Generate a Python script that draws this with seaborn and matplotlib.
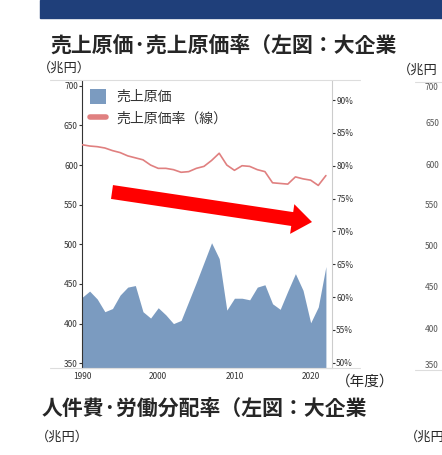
import matplotlib
matplotlib.use("Agg")
import matplotlib.pyplot as plt
import seaborn as sns
import pandas as pd
from matplotlib.patches import FancyArrow, Rectangle
from matplotlib.lines import Line2D

years = list(range(1990, 2023))
cost = [433, 441, 431, 415, 419, 436, 446, 448, 415, 407, 420, 411, 400, 404, 428, 452,
        477, 502, 482, 417, 432, 432, 430, 446, 449, 425, 418, 441, 463, 442, 401, 421, 472]
rate = [83.2, 83.0, 82.9, 82.7, 82.3, 82.0, 81.5, 81.2, 80.9, 80.1, 79.6, 79.6, 79.4, 79.0,
        79.1, 79.6, 79.9, 80.8, 81.9, 80.1, 79.3, 80.0, 79.9, 79.4, 79.1, 77.4, 77.3, 77.2,
        78.3, 78.0, 77.8, 77.0, 78.5]
left_ticks = [350, 400, 450, 500, 550, 600, 650, 700]
right_ticks = [50, 55, 60, 65, 70, 75, 80, 85, 90]
xticks = [1990, 2000, 2010, 2020]

sns.set_style("white")
plt.rcParams['font.family'] = ['Noto Sans CJK JP', 'DejaVu Sans']
df = pd.DataFrame({"year": years, "cost": cost, "rate": rate})

fig = plt.figure(figsize=(4.42, 4.55), dpi=100)
W, H = 442, 455
def fx(x): return x / W
def fy(y): return 1 - y / H

fig.patches.append(Rectangle((fx(40), fy(18)), fx(402), 18 / H, transform=fig.transFigure,
                             color="#1f3f7a", zorder=0))
fig.text(fx(50), fy(45), "売上原価·売上原価率（左図：大企業", fontsize=15, fontweight="bold",
         va="center", ha="left")
fig.text(fx(38), fy(68), "（兆円）", fontsize=9.5, va="center", ha="left")
fig.text(fx(398), fy(70), "（兆円", fontsize=9.5, va="center", ha="left")
fig.text(fx(336), fy(382), "（年度）", fontsize=10.5, va="center", ha="left")
fig.text(fx(42), fy(408), "人件費·労働分配率（左図：大企業", fontsize=15, fontweight="bold",
         va="center", ha="left")
fig.text(fx(36), fy(437), "（兆円）", fontsize=9.5, va="center", ha="left")
fig.text(fx(405), fy(437), "（兆円", fontsize=9.5, va="center", ha="left")
for v, y in zip(left_ticks, [365, 329, 288, 247, 206, 165, 124, 88]):
    fig.text(fx(425), fy(y), str(v), fontsize=6, color="#555555", va="center", ha="left")
for y in [80, 368]:
    fig.add_artist(Line2D([fx(50), fx(360)], [fy(y), fy(y)], color="#dddddd", lw=0.8))
    fig.add_artist(Line2D([fx(415), fx(442)], [fy(y + 2), fy(y + 2)], color="#dddddd", lw=0.8))

ax = fig.add_axes([fx(82), fy(368), 250 / W, 287 / H])
ax.fill_between(df["year"], 344, df["cost"], color="#7b9bc0", lw=0, label="売上原価")
ax.set_xlim(1990, 2022.8)
ax.set_ylim(344, 706)
ax.set_yticks(left_ticks)
ax.set_xticks(xticks)
ax.tick_params(labelsize=6, colors="#333333", length=2, pad=1)
for s in ["top", "right"]:
    ax.spines[s].set_visible(False)
ax.spines["left"].set_color("#333333")
ax.spines["bottom"].set_color("#bbbbbb")
ax.set_xlabel(""); ax.set_ylabel("")

ax2 = ax.twinx()
sns.lineplot(data=df, x="year", y="rate", ax=ax2, color="#e08080", lw=1.2, legend=False)
ax2.set_ylim(49.2, 92.9)
ax2.set_yticks(right_ticks)
ax2.set_yticklabels([f"{t}%" for t in right_ticks])
ax2.tick_params(labelsize=6, colors="#333333", length=2, pad=1)
ax2.set_xlabel(""); ax2.set_ylabel("")
for s in ["top", "left", "bottom"]:
    ax2.spines[s].set_visible(False)
ax2.spines["right"].set_color("#cccccc")

h1, l1 = ax.get_legend_handles_labels()
h2 = [Line2D([], [], color="#e08080", lw=4)]
leg = ax2.legend(h1 + h2, l1 + ["売上原価率（線）"], loc="upper left", frameon=False,
                 fontsize=10, handlelength=1.1, handleheight=1.2, borderaxespad=0.2,
                 labelspacing=0.5)
for t in leg.get_texts():
    t.set_color("#333333")

fig.patches.append(FancyArrow(fx(112), fy(192), fx(200), -30 / H, width=14 / H,
                              head_width=30 / H, head_length=fx(20),
                              transform=fig.transFigure, color="#ff0000", lw=0,
                              length_includes_head=True))

fig.savefig("out.png", dpi=100)
